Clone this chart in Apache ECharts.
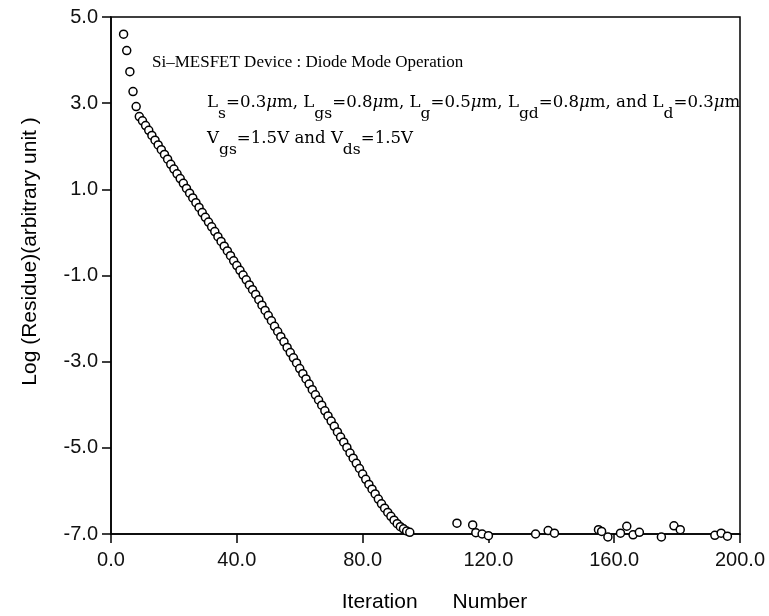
<!DOCTYPE html>
<html>
<head>
<meta charset="utf-8">
<title>Residue</title>
<script src="https://cdn.jsdelivr.net/npm/echarts@6/dist/echarts.min.js"></script>
</head>
<body style="margin:0;background:#fff">
<div id="main" style="width:769px;height:616px;"></div>
<script>
// iteration number / log residue
var iterMain = [4, 5, 6, 7, 8, 9, 10, 11, 12, 13, 14, 15, 16, 17, 18, 19, 20,
  21, 22, 23, 24, 25, 26, 27, 28, 29, 30, 31, 32, 33, 34, 35, 36, 37, 38, 39, 40,
  41, 42, 43, 44, 45, 46, 47, 48, 49, 50, 51, 52, 53, 54, 55, 56, 57, 58, 59, 60,
  61, 62, 63, 64, 65, 66, 67, 68, 69, 70, 71, 72, 73, 74, 75, 76, 77, 78, 79, 80,
  81, 82, 83, 84, 85, 86, 87, 88, 89, 90, 91, 92, 93, 94, 95];
var residueMain = [4.60, 4.22, 3.73, 3.27, 2.92, 2.69, 2.59,
  2.48, 2.37, 2.25, 2.14, 2.03, 1.92, 1.81, 1.70, 1.58, 1.47,
  1.36, 1.25, 1.14, 1.02, 0.91, 0.80, 0.69, 0.58, 0.46, 0.35,
  0.24, 0.13, 0.02, -0.10, -0.21, -0.32, -0.43, -0.54, -0.66, -0.77,
  -0.88, -0.99, -1.10, -1.22, -1.33, -1.44,
  -1.56, -1.69, -1.81, -1.93, -2.05, -2.18, -2.30, -2.42, -2.54, -2.67,
  -2.79, -2.91, -3.03, -3.16, -3.28, -3.40, -3.52, -3.65, -3.77, -3.89,
  -4.01, -4.14, -4.26, -4.38, -4.50, -4.63, -4.75, -4.87, -4.99, -5.12,
  -5.24, -5.36, -5.48, -5.61, -5.73, -5.85,
  -5.96, -6.07, -6.19, -6.30, -6.40, -6.50, -6.59, -6.68, -6.76, -6.83, -6.88, -6.93, -6.96];

// scattered points after convergence
var iterTail = [110, 115, 116, 118, 120, 135, 139, 141, 155, 156, 158, 162, 164, 166, 168, 175, 179, 181, 192, 194, 196];
var residueTail = [-6.75, -6.79, -6.97, -7.00, -7.04, -7.00, -6.92, -6.98, -6.90, -6.94, -7.07,
  -6.98, -6.82, -7.02, -6.96, -7.07, -6.81, -6.90, -7.03, -6.98, -7.05];

var xTicks = [0, 40, 80, 120, 160, 200];
var yTicks = [-7, -5, -3, -1, 1, 3, 5];

var pts = [];
iterMain.forEach(function (x, i) { pts.push([x, residueMain[i]]); });
iterTail.forEach(function (x, i) { pts.push([x, residueTail[i]]); });

var chart = echarts.init(document.getElementById('main'));

var sans = 'Liberation Sans';
var serif = 'Liberation Serif';
var mathSerif = 'DejaVu Serif';

var line2 = '{n|L}{s|s}{n|=0.3}{i|μ}{n|m, L}{s|gs}{n|=0.8}{i|μ}{n|m, L}{s|g}{n|=0.5}{i|μ}{n|m, L}{s|gd}{n|=0.8}{i|μ}{n|m, and L}{s|d}{n|=0.3}{i|μ}{n|m}';
var line3 = '{n|V}{s|gs}{n|=1.5V and V}{s|ds}{n|=1.5V}';
var rich = {
  n: { fontFamily: mathSerif, fontSize: 16.6, lineHeight: 19, verticalAlign: 'top', color: '#000' },
  i: { fontFamily: mathSerif, fontSize: 16.6, fontStyle: 'italic', lineHeight: 19, verticalAlign: 'top', color: '#000' },
  s: { fontFamily: mathSerif, fontSize: 15.5, lineHeight: 15, padding: [12, 0, 0, 0], verticalAlign: 'top', color: '#000' }
};

var option = {
  backgroundColor: '#fff',
  animation: false,
  grid: {
    left: 111, right: 29, top: 17, bottom: 82,
    outerBoundsMode: 'none',
    containLabel: false,
    show: true, borderColor: '#000', borderWidth: 1.5
  },
  xAxis: {
    type: 'value',
    min: xTicks[0], max: xTicks[xTicks.length - 1], interval: 40,
    name: 'Iteration      Number',
    nameLocation: 'middle',
    nameGap: 58,
    nameTextStyle: { fontFamily: sans, fontSize: 21, color: '#000', padding: [0, 0, 0, 18] },
    axisLine: { onZero: false, lineStyle: { color: '#000', width: 1.5 } },
    axisTick: { inside: false, length: 9, lineStyle: { color: '#000', width: 1.5 } },
    axisLabel: { fontFamily: sans, fontSize: 20, color: '#111', margin: 16,
      formatter: function (v) { return v.toFixed(1); } },
    splitLine: { show: false }
  },
  yAxis: {
    type: 'value',
    min: yTicks[0], max: yTicks[yTicks.length - 1], interval: 2,
    name: 'Log (Residue)(arbitrary unit )',
    nameLocation: 'middle',
    nameGap: 70,
    nameTextStyle: { fontFamily: sans, fontSize: 21, color: '#000', padding: [0, 0, 0, 48] },
    axisLine: { onZero: false, lineStyle: { color: '#000', width: 1.5 } },
    axisTick: { inside: false, length: 9, lineStyle: { color: '#000', width: 1.5 } },
    axisLabel: { fontFamily: sans, fontSize: 20, color: '#111', margin: 13,
      formatter: function (v) { return v.toFixed(1); } },
    splitLine: { show: false }
  },
  series: [{
    type: 'scatter',
    data: pts,
    clip: false,
    symbol: 'circle',
    symbolSize: 8,
    itemStyle: { color: '#fff', borderColor: '#000', borderWidth: 1.5, opacity: 1 }
  }],
  graphic: [
    { type: 'text', left: 152, top: 54,
      style: { text: 'Si–MESFET Device : Diode Mode Operation', fontFamily: serif, fontSize: 17, fill: '#000' } },
    { type: 'text', left: 207, top: 94, style: { text: line2, rich: rich } },
    { type: 'text', left: 207, top: 130, style: { text: line3, rich: rich } }
  ]
};

chart.setOption(option);
</script>
</body>
</html>
